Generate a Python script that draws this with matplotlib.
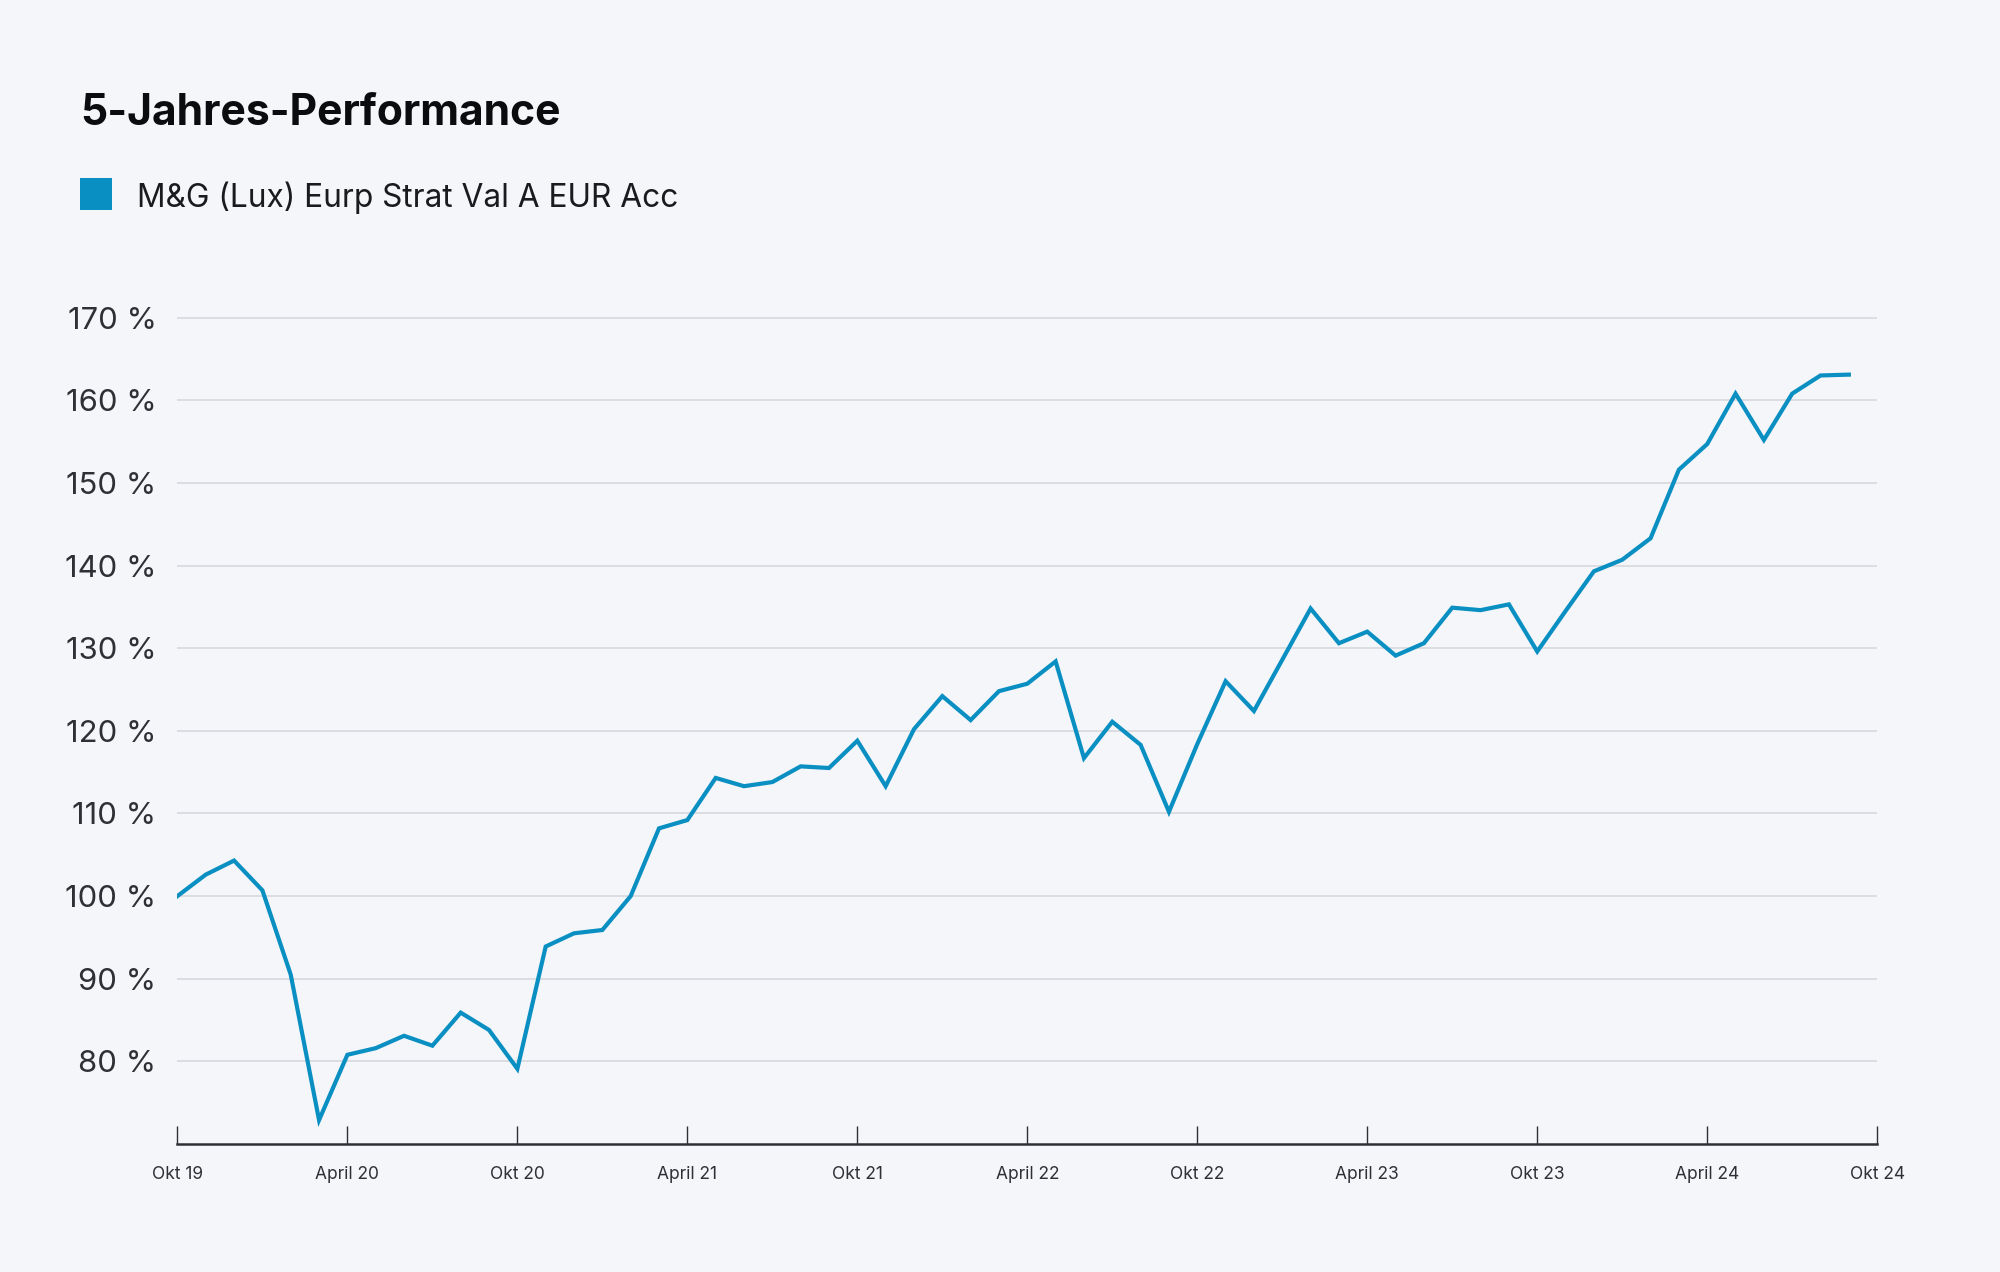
import matplotlib
matplotlib.use("Agg")
import matplotlib.pyplot as plt
from matplotlib.patches import Rectangle
import numpy as np

# monthly values, Okt 19 .. Sep 24 (in %)
values = [
    100.0, 102.6, 104.3, 100.7, 90.5, 72.9, 80.8, 81.6, 83.1, 81.9,
    85.9, 83.8, 79.1, 93.9, 95.5, 95.9, 100.0, 108.2, 109.2, 114.3,
    113.3, 113.8, 115.7, 115.5, 118.8, 113.3, 120.2, 124.2, 121.3, 124.8,
    125.7, 128.4, 116.7, 121.1, 118.3, 110.2, 118.4, 126.0, 122.4, 128.6,
    134.8, 130.6, 132.0, 129.1, 130.6, 134.9, 134.6, 135.3, 129.6, 134.5,
    139.3, 140.7, 143.3, 151.6, 154.7, 160.8, 155.2, 160.8, 163.0, 163.1,
]
x_tick_pos = [0, 6, 12, 18, 24, 30, 36, 42, 48, 54, 60]
x_tick_labels = ["Okt 19", "April 20", "Okt 20", "April 21", "Okt 21", "April 22",
                 "Okt 22", "April 23", "Okt 23", "April 24", "Okt 24"]
y_ticks = [80, 90, 100, 110, 120, 130, 140, 150, 160, 170]

TITLE = "5-Jahres-Performance"
SERIES = "M&G (Lux) Eurp Strat Val A EUR Acc"

BG = "#F4F6FA"
LINE = "#0A8FC2"
GRID = "#D9DBE1"
TEXT = "#2E3035"

plt.rcParams["font.family"] = ["Inter", "DejaVu Sans"]

fig = plt.figure(figsize=(20, 12.72), dpi=100, facecolor=BG)
ax = fig.add_axes([0.0887, 0.1006, 0.8499, 0.6627])
ax.set_facecolor(BG)

months = np.arange(len(values))
ax.plot(months, values, color=LINE, lw=3.0, solid_joinstyle="miter", zorder=3)

ax.set_xlim(0, 60)
ax.set_ylim(70, 172)

ax.set_yticks(y_ticks)
ax.set_yticklabels([f"{v} %" for v in y_ticks])
ax.grid(axis="y", color=GRID, lw=1.3)
ax.set_axisbelow(True)

ax.set_xticks(x_tick_pos)
ax.set_xticklabels(x_tick_labels)

for s in ["top", "right", "left"]:
    ax.spines[s].set_visible(False)
ax.spines["bottom"].set_color(TEXT)
ax.spines["bottom"].set_linewidth(1.8)

ax.tick_params(axis="y", length=0, pad=15, labelsize=22.3, labelcolor=TEXT)
ax.tick_params(axis="x", direction="in", length=13, width=1, color=TEXT,
               pad=16, labelsize=12.5, labelcolor=TEXT)

fig.text(0.040, 0.9017, TITLE, fontsize=30.7, fontweight="bold", color="#0B0C0E",
         va="baseline", ha="left")

fig.patches.append(Rectangle((0.040, 1 - 210 / 1272), 32 / 2000, 32 / 1272,
                             transform=fig.transFigure, facecolor=LINE,
                             edgecolor="none"))
fig.text(137 / 2000, 1 - 198 / 1272, SERIES, fontsize=22.8, color="#1A1B1E",
         va="center", ha="left")

fig.savefig("out.png", dpi=100, facecolor=BG)
